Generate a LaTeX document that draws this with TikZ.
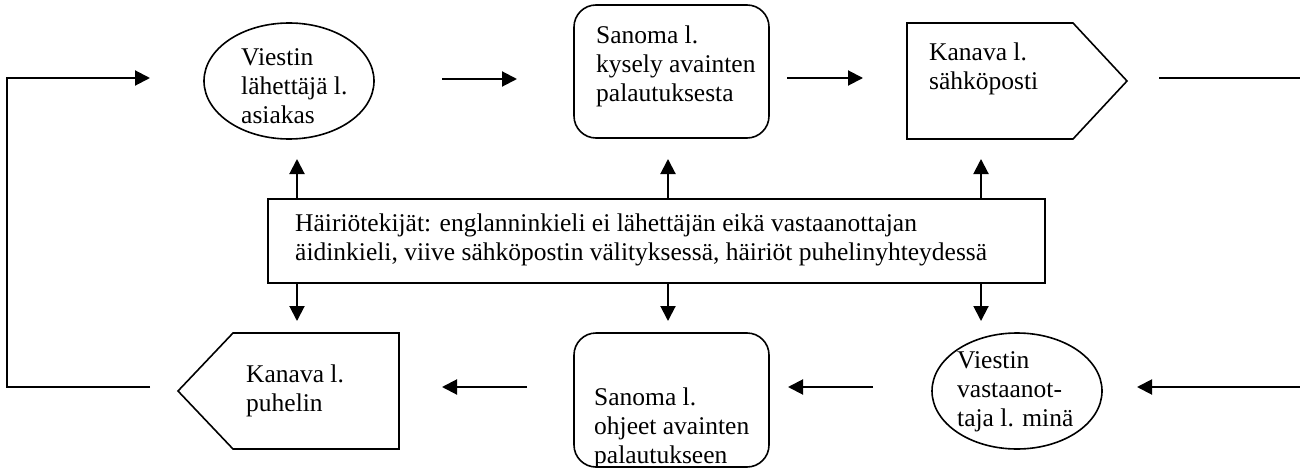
\documentclass[tikz,border=0pt]{standalone}
\usepackage{fontspec}
\setmainfont{Liberation Serif}
\usetikzlibrary{arrows.meta,shapes.geometric}
\newcommand\viestifont{\fontsize{25.5}{29}\selectfont}

\begin{document}
\begin{tikzpicture}[x=1pt,y=-1pt,
  kuvio/.style={draw,line width=1.6pt,inner sep=0pt},
  teksti/.style={font=\viestifont,align=left,anchor=north west,inner sep=0pt},
  nuoli/.style={-{Triangle[length=15pt,width=15pt]},line width=2pt},
  viiva/.style={line width=2pt}]
\useasboundingbox (0,0) rectangle (1300,468);
% ylarivi
\node[kuvio,ellipse,minimum width=170pt,minimum height=116pt] (lahettaja) at (289,81) {};
\node[teksti] (lahettajaT) at (241,48.6) {Viestin\\lähettäjä l.\\asiakas};
\node[kuvio,rounded corners=22pt,minimum width=195pt,minimum height=133pt] (kysely) at (671.5,71.5) {};
\node[teksti] (kyselyT) at (596,25.6) {Sanoma l.\\kysely avainten\\palautuksesta};
\draw[kuvio] (907,23) -- (1073,23) -- (1127,81) -- (1073,139) -- (907,139) -- cycle;
\node[teksti] (sahkopostiT) at (929,42.6) {Kanava l.\\sähköposti};
% hairiot
\node[kuvio,line width=2pt,minimum width=777pt,minimum height=84pt] (hairiot) at (656.5,241) {};
\node[teksti] (hairiotT) at (295,213.6) {Häiriötekijät: englanninkieli ei lähettäjän eikä vastaanottajan\\äidinkieli, viive sähköpostin välityksessä, häiriöt puhelinyhteydessä};
% alarivi
\draw[kuvio] (178,391) -- (233,333) -- (399,333) -- (399,449) -- (233,449) -- cycle;
\node[teksti] (puhelinT) at (246,364.6) {Kanava l.\\puhelin};
\node[kuvio,rounded corners=22pt,minimum width=195pt,minimum height=134pt] (ohjeet) at (671.5,400) {};
\node[teksti] (ohjeetT) at (594,387.6) {Sanoma l.\\ohjeet avainten\\palautukseen};
\node[kuvio,ellipse,minimum width=170pt,minimum height=116pt] (vastaanottaja) at (1017,391) {};
\node[teksti] (vastaanottajaT) at (957,351.6) {Viestin\\vastaanot-\\taja l. minä};
% nuolet
\coordinate (paluu) at (150,387);
\coordinate (kulma) at (7,387);
\coordinate (tulo) at (150,78);
\draw[nuoli] (paluu) -- (kulma) |- (tulo);
\coordinate (n1a) at (442,79);
\coordinate (n1b) at (517,79);
\draw[nuoli] (n1a) -- (n1b);
\coordinate (n2a) at (787,78);
\coordinate (n2b) at (863,78);
\draw[nuoli] (n2a) -- (n2b);
\coordinate (ulos) at (1159,78);
\coordinate (reuna) at (1300,78);
\draw[viiva] (ulos) -- (reuna);
\coordinate (n3a) at (1300,387);
\coordinate (n3b) at (1137,387);
\draw[nuoli] (n3a) -- (n3b);
\coordinate (n4a) at (873,387);
\coordinate (n4b) at (788,387);
\draw[nuoli] (n4a) -- (n4b);
\coordinate (n5a) at (527,387);
\coordinate (n5b) at (442,387);
\draw[nuoli] (n5a) -- (n5b);
\coordinate (y1) at (297,159);
\coordinate (y2) at (668,159);
\coordinate (y3) at (981,159);
\draw[nuoli] (hairiot.north -| y1) -- (y1);
\draw[nuoli] (hairiot.north -| y2) -- (y2);
\draw[nuoli] (hairiot.north -| y3) -- (y3);
\coordinate (a1) at (297,321);
\coordinate (a2) at (668,321);
\coordinate (a3) at (981,321);
\draw[nuoli] (hairiot.south -| a1) -- (a1);
\draw[nuoli] (hairiot.south -| a2) -- (a2);
\draw[nuoli] (hairiot.south -| a3) -- (a3);
\end{tikzpicture}
\end{document}
